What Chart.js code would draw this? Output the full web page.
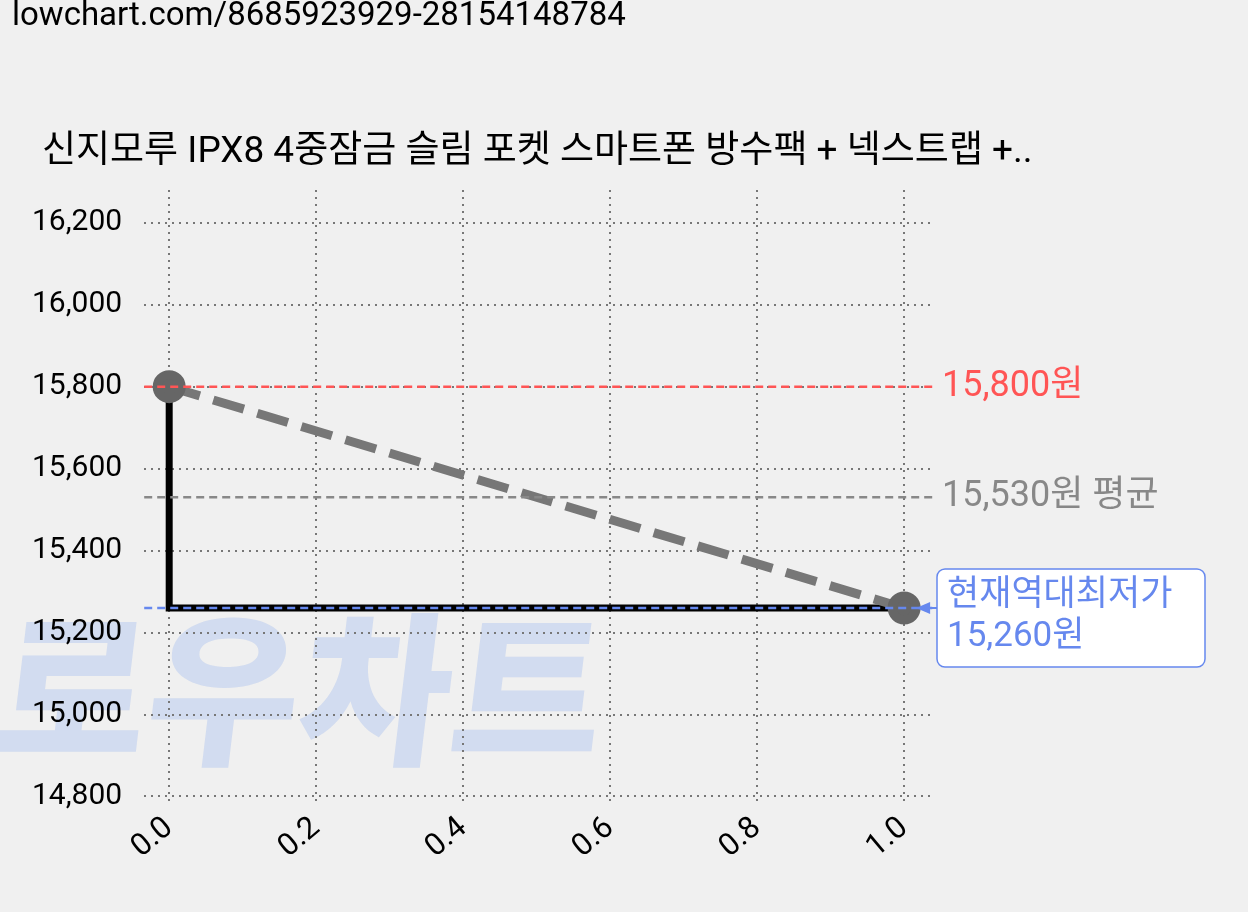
<!DOCTYPE html>
<html><head><meta charset="utf-8">
<script src="https://cdn.jsdelivr.net/npm/chart.js@4/dist/chart.umd.min.js"></script>
<style>html,body{margin:0;background:#f0f0f0}#w{width:1248px;height:912px}</style>
</head><body><div id="w"><canvas id="c"></canvas></div>
<script>
const titleText = "신지모루 IPX8 4중잠금 슬림 포켓 스마트폰 방수팩 + 넥스트랩 +..";
const urlText = "lowchart.com/8685923929-28154148784";
const xTicks = [0, 0.2, 0.4, 0.6, 0.8, 1.0];
const yTicks = [14800, 15000, 15200, 15400, 15600, 15800, 16000, 16200];
const stepX = [0, 0, 1];
const stepY = [15800, 15260, 15260];
const trendX = [0, 1];
const trendY = [15800, 15260];
const maxPrice = 15800, avgPrice = 15530, minPrice = 15260;
const F = "Roboto, 'Noto Sans CJK KR', sans-serif";

const deco = {
  id: 'deco',
  beforeDraw(ch) {
    const c = ch.ctx;
    c.save();
    c.fillStyle = '#f0f0f0'; c.fillRect(0, 0, ch.width, ch.height);
    c.fillStyle = 'rgba(180,200,240,0.5)';
    c.font = "900 165px 'Noto Sans CJK KR'";
    c.textBaseline = 'alphabetic';
    c.setTransform(1, 0, -0.12, 1, 80, 0);
    c.fillText('로우차트', 0, 752);
    c.restore();
  },
  afterDraw(ch) {
    const c = ch.ctx, x = ch.scales.x, y = ch.scales.y;
    c.save();
    c.fillStyle = '#000'; c.font = "33px " + F; c.textBaseline = 'top';
    c.fillText(urlText, 12, 0);
    c.font = "37px " + F; c.textBaseline = 'middle';
    c.fillText(titleText, 42, 153);
    const L = ch.chartArea.left, R = ch.chartArea.right;
    const hl = (v, col) => {
      c.strokeStyle = col; c.lineWidth = 2.5; c.setLineDash([8, 5]);
      c.beginPath(); c.moveTo(L, y.getPixelForValue(v)); c.lineTo(R, y.getPixelForValue(v)); c.stroke();
    };
    hl(maxPrice, '#ff5555'); hl(avgPrice, '#888'); hl(minPrice, '#6688ee');
    c.setLineDash([]);
    c.font = "36px " + F; c.textBaseline = 'middle';
    c.fillStyle = '#ff5555'; c.fillText(maxPrice.toLocaleString() + '원', 942, y.getPixelForValue(maxPrice));
    c.fillStyle = '#888'; c.fillText(avgPrice.toLocaleString() + '원 평균', 942, y.getPixelForValue(avgPrice));
    const py = y.getPixelForValue(minPrice), px = x.getPixelForValue(1);
    c.fillStyle = '#fff'; c.strokeStyle = '#6688ee'; c.lineWidth = 1.5;
    c.beginPath(); c.roundRect(937, 569, 268, 98, 8); c.fill(); c.stroke();
    c.fillStyle = '#6688ee';
    c.font = "35px " + F;
    c.fillText('현재역대최저가', 947, 596);
    c.fillText(minPrice.toLocaleString() + '원', 947, 637);
    c.beginPath(); c.moveTo(px + 12, py); c.lineTo(px + 26, py - 6); c.lineTo(px + 26, py + 6); c.fill();
    c.strokeStyle = '#6688ee'; c.lineWidth = 2;
    c.beginPath(); c.moveTo(px + 20, py); c.lineTo(937, py); c.stroke();
    c.restore();
  }
};

new Chart(document.getElementById('c'), {
  type: 'scatter',
  data: { datasets: [
    { data: trendX.map((v, i) => ({x: v, y: trendY[i]})), showLine: true, borderColor: '#777', borderWidth: 9,
      borderDash: [32, 14], pointRadius: 12, pointBackgroundColor: '#666', pointBorderColor: '#666' },
    { data: stepX.map((v, i) => ({x: v, y: stepY[i]})), showLine: true, borderColor: '#000', borderWidth: 7, pointRadius: 0 }
  ]},
  options: {
    responsive: true, maintainAspectRatio: false, animation: false,
    layout: { padding: { top: 190, right: 313, bottom: 40, left: 10 } },
    plugins: { legend: { display: false }, tooltip: { enabled: false } },
    scales: {
      x: { type: 'linear', min: -0.034, max: 1.042,
        afterBuildTicks: a => { a.ticks = xTicks.map(v => ({value: v})); },
        border: { display: false, dash: [2, 5] },
        grid: { color: '#777', lineWidth: 2, drawTicks: false },
        ticks: { color: '#000', font: { size: 31, family: F }, maxRotation: 40, minRotation: 40, padding: 6,
          callback: v => v.toFixed(1) } },
      y: { min: 14782, max: 16280,
        afterBuildTicks: a => { a.ticks = yTicks.map(v => ({value: v})); },
        border: { display: false, dash: [2, 5] },
        grid: { color: '#777', lineWidth: 2, drawTicks: false },
        ticks: { color: '#000', font: { size: 30, family: F }, padding: 22,
          callback: v => v.toLocaleString() } }
    }
  },
  plugins: [deco]
});
</script></body></html>
